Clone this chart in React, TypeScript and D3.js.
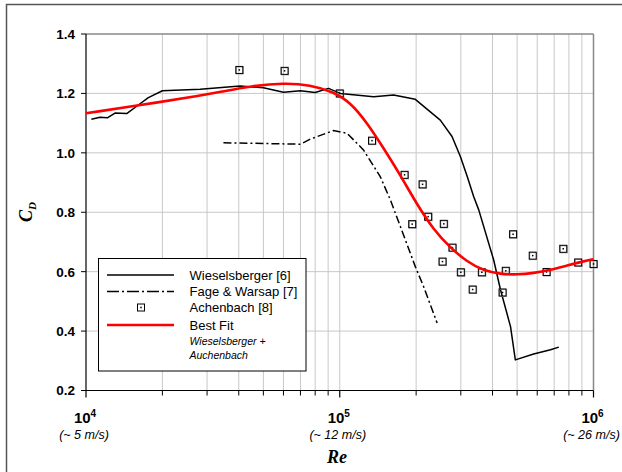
import React from "react";
import * as d3 from "d3";

const wieselsbergerRe = [1.05e4, 1.136e4, 1.213e4, 1.301e4, 1.447e4, 1.608e4, 1.761e4, 2.0e4, 2.818e4, 4.05e4, 5.0e4, 6.0e4, 7.0e4, 8.0e4, 9.03e4, 1.005e5, 1.36e5, 1.63e5, 1.985e5, 2.49e5, 2.77e5, 2.99e5, 3.18e5, 3.37e5, 3.53e5, 4.04e5, 4.3e5, 4.71e5, 4.92e5, 5.81e5, 6.77e5, 7.3e5];
const wieselsbergerCd = [1.113, 1.12, 1.118, 1.134, 1.132, 1.161, 1.186, 1.209, 1.214, 1.225, 1.219, 1.204, 1.209, 1.203, 1.217, 1.2, 1.189, 1.195, 1.18, 1.11, 1.055, 0.987, 0.92, 0.853, 0.808, 0.64, 0.539, 0.415, 0.303, 0.323, 0.337, 0.346];

const fageRe = [3.48e4, 7.0e4, 7.65e4, 9.45e4, 1.068e5, 1.24e5, 1.444e5, 1.582e5, 1.733e5, 1.985e5, 2.14e5, 2.42e5];
const fageCd = [1.034, 1.029, 1.046, 1.075, 1.066, 1.01, 0.92, 0.842, 0.752, 0.617, 0.55, 0.427];

const achenbachRe = [4.02e4, 6.06e4, 1.0e5, 1.34e5, 1.8e5, 2.12e5, 2.23e5, 1.93e5, 2.57e5, 2.78e5, 2.54e5, 3.0e5, 3.63e5, 3.34e5, 4.51e5, 4.38e5, 4.82e5, 5.76e5, 6.53e5, 7.6e5, 8.7e5, 1.0e6];
const achenbachCd = [1.279, 1.276, 1.2, 1.041, 0.926, 0.894, 0.785, 0.76, 0.761, 0.681, 0.634, 0.598, 0.598, 0.54, 0.603, 0.53, 0.726, 0.654, 0.599, 0.677, 0.631, 0.626];

const fitRe = [1.0e4, 2.0e4, 2.82e4, 3.38e4, 4.5e4, 6.0e4, 7.65e4, 9.45e4, 1.1e5, 1.28e5, 1.49e5, 1.733e5, 2.02e5, 2.34e5, 2.73e5, 3.18e5, 3.69e5, 4.3e5, 5.0e5, 5.81e5, 6.77e5, 7.87e5, 9.16e5, 1.0e6];
const fitCd = [1.133, 1.172, 1.193, 1.205, 1.225, 1.235, 1.229, 1.205, 1.17, 1.102, 1.015, 0.925, 0.825, 0.742, 0.68, 0.633, 0.603, 0.592, 0.59, 0.595, 0.606, 0.621, 0.635, 0.642];

const yTicks = [0.2, 0.4, 0.6, 0.8, 1.0, 1.2, 1.4];
const xDecades = [1e4, 1e5, 1e6];
const xExponents = ["4", "5", "6"];
const xSpeeds = ["(~ 5 m/s)", "(~ 12 m/s)", "(~ 26 m/s)"];

const legendLabels = ["Wieselsberger [6]", "Fage & Warsap [7]", "Achenbach [8]", "Best Fit"];
const legendNote = ["Wieselsberger +", "Auchenbach"];

const W = 622;
const H = 472;
const L = 86, R = 593.5, T = 34, B = 390.5;

export default function App() {
  const x = d3.scaleLog().domain([1e4, 1e6]).range([L, R]);
  const y = d3.scaleLinear().domain([0.2, 1.4]).range([B, T]);

  const minor: number[] = [];
  [1e4, 1e5].forEach((d) => {
    for (let k = 2; k <= 9; k++) minor.push(d * k);
  });

  const wData = wieselsbergerRe.map((r, i) => [r, wieselsbergerCd[i]] as [number, number]);
  const fData = fageRe.map((r, i) => [r, fageCd[i]] as [number, number]);
  const aData = achenbachRe.map((r, i) => [r, achenbachCd[i]] as [number, number]);
  const bData = fitRe.map((r, i) => [r, fitCd[i]] as [number, number]);

  const line = d3.line<[number, number]>().x((d) => x(d[0])).y((d) => y(d[1]));
  const smooth = d3
    .line<[number, number]>()
    .x((d) => x(d[0]))
    .y((d) => y(d[1]))
    .curve(d3.curveBasis);

  const font = "'Liberation Sans', Arial, sans-serif";
  const serif = "'Liberation Serif', 'Times New Roman', serif";

  const legY = [275, 291.5, 307.5, 325];

  return (
    <svg width={W} height={H} style={{ position: "absolute", left: 0, top: 0 }}>
      <rect x={0} y={0} width={W} height={H} fill="#fff" />
      <rect x={6.5} y={4.5} width={800} height={800} fill="none" stroke="#555" strokeWidth={1.5} />

      {/* grid */}
      {minor.concat([1e5]).map((v, i) => (
        <line key={"vg" + i} x1={x(v)} x2={x(v)} y1={T} y2={B} stroke="#c8c8c8" strokeWidth={1} />
      ))}
      {yTicks.slice(1, -1).map((v, i) => (
        <line key={"hg" + i} x1={L} x2={R} y1={y(v)} y2={y(v)} stroke="#c8c8c8" strokeWidth={1} />
      ))}
      <line x1={L} x2={R} y1={T} y2={T} stroke="#888" strokeWidth={1.5} />
      <line x1={R} x2={R} y1={T} y2={B} stroke="#888" strokeWidth={1.5} />

      {/* axes */}
      <line x1={L} x2={L} y1={T} y2={B} stroke="#000" strokeWidth={1.2} />
      <line x1={L} x2={R} y1={B} y2={B} stroke="#000" strokeWidth={1.2} />
      {yTicks.map((v, i) => (
        <g key={"yt" + i}>
          <line x1={L - 5} x2={L} y1={y(v)} y2={y(v)} stroke="#000" strokeWidth={1} />
          <text x={75} y={y(v)} dy="0.36em" textAnchor="end" fontFamily={font} fontWeight="bold" fontSize={13.5} fill="#000">
            {v.toFixed(1)}
          </text>
        </g>
      ))}
      {minor.map((v, i) => (
        <line key={"xt" + i} x1={x(v)} x2={x(v)} y1={B} y2={B + 5} stroke="#000" strokeWidth={1} />
      ))}
      {xDecades.map((v, i) => (
        <g key={"xd" + i}>
          <line x1={x(v)} x2={x(v)} y1={B} y2={B + 7} stroke="#000" strokeWidth={1.2} />
          <text x={x(v) - 1} y={423} textAnchor="middle" fontFamily={font} fontWeight="bold" fontSize={15} fill="#000">
            10
            <tspan fontSize={10} dy={-6}>{xExponents[i]}</tspan>
          </text>
          <text x={x(v) - 2} y={438.5} textAnchor="middle" fontFamily={font} fontStyle="italic" fontSize={12.5} fill="#000">
            {xSpeeds[i]}
          </text>
        </g>
      ))}
      <text x={337} y={463} textAnchor="middle" fontFamily={serif} fontStyle="italic" fontWeight="bold" fontSize={18} fill="#000">
        Re
      </text>
      <text transform="translate(32,212) rotate(-90)" textAnchor="middle" fontFamily={serif} fontStyle="italic" fontWeight="bold" fontSize={18} fill="#000">
        C<tspan fontSize={11} dy={4}>D</tspan>
      </text>

      {/* data */}
      <path d={line(wData) || ""} fill="none" stroke="#000" strokeWidth={1.5} strokeLinejoin="round" />
      <path d={line(fData) || ""} fill="none" stroke="#000" strokeWidth={1.5} strokeDasharray="8,3,2,3" />
      {aData.map((d, i) => (
        <g key={"a" + i}>
          <rect x={x(d[0]) - 3} y={y(d[1]) - 3} width={7} height={7} fill="none" stroke="#999" strokeWidth={1} />
          <rect x={x(d[0]) - 3.5} y={y(d[1]) - 3.5} width={7} height={7} fill="none" stroke="#000" strokeWidth={1} />
          <rect x={x(d[0]) - 0.75} y={y(d[1]) - 0.75} width={1.5} height={1.5} fill="#000" />
        </g>
      ))}
      <path d={smooth(bData) || ""} fill="none" stroke="#ff0000" strokeWidth={2.6} />

      {/* legend */}
      <rect x={98.5} y={258.5} width={207.5} height={112.5} fill="#fff" stroke="#000" strokeWidth={1} />
      <line x1={107} x2={174} y1={legY[0]} y2={legY[0]} stroke="#000" strokeWidth={1.5} />
      <line x1={107} x2={174} y1={legY[1]} y2={legY[1]} stroke="#000" strokeWidth={1.5} strokeDasharray="12,3,2,3" />
      <rect x={137.5} y={legY[2] - 3.5} width={7} height={7} fill="none" stroke="#000" strokeWidth={1} />
      <rect x={140.25} y={legY[2] - 0.75} width={1.5} height={1.5} fill="#000" />
      <line x1={107} x2={174} y1={legY[3]} y2={legY[3]} stroke="#ff0000" strokeWidth={2.6} />
      {legendLabels.map((t, i) => (
        <text key={"lg" + i} x={189.5} y={legY[i]} dy="0.36em" fontFamily={font} fontSize={13} fill="#000">
          {t}
        </text>
      ))}
      {legendNote.map((t, i) => (
        <text key={"ln" + i} x={189.5} y={341 + i * 14.5} dy="0.36em" fontFamily={font} fontStyle="italic" fontSize={10.5} fill="#000">
          {t}
        </text>
      ))}
    </svg>
  );
}
